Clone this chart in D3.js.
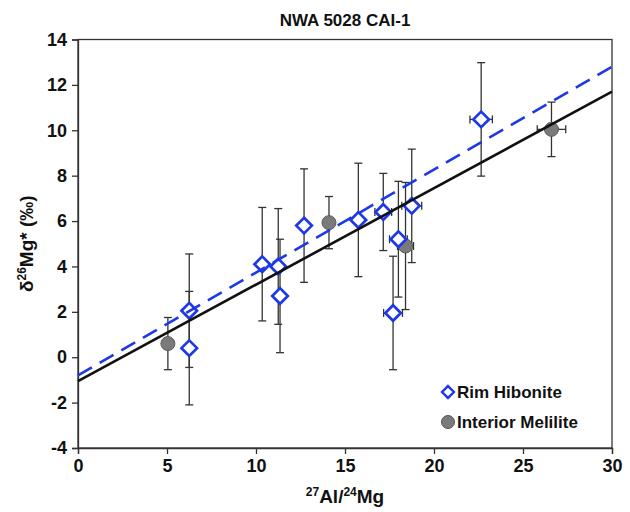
<!doctype html>
<html>
<head>
<meta charset="utf-8"/>
<style>
    html, body { margin: 0; background: #fff; }
    svg { font-family: "Liberation Sans", Arial, sans-serif; font-weight: bold; }
</style>
<script src="https://cdnjs.cloudflare.com/ajax/libs/d3/7.8.5/d3.min.js"></script>
</head>
<body>
<svg width="630" height="512"></svg>
<script>

// Rim hibonite: x, y, y error, x error
var rimX    = [6.25, 6.25, 10.35, 11.25, 11.35, 12.7, 15.75, 17.15, 18.0, 18.75, 17.7, 22.65];
var rimY    = [0.4, 2.05, 4.1, 4.0, 2.7, 5.8, 6.05, 6.4, 5.2, 6.67, 1.95, 10.48];
var rimYErr = [2.5, 2.5, 2.5, 2.55, 2.5, 2.5, 2.5, 1.7, 2.55, 2.5, 2.5, 2.5];
var rimXErr = [0, 0, 0, 0, 0, 0, 0, 0.47, 0.5, 0.56, 0.53, 0.63];

// Interior melilite
var melX    = [5.05, 14.1, 18.4, 26.6];
var melY    = [0.6, 5.93, 4.9, 10.04];
var melYErr = [1.15, 1.15, 2.8, 1.2];
var melXErr = [0, 0, 0.45, 0.8];

// regression lines: [intercept, slope]
var fitAll = [-1.05, 0.425];
var fitRim = [-0.8, 0.4533];

var xTicks = [0, 5, 10, 15, 20, 25, 30];
var yTicks = [-4, -2, 0, 2, 4, 6, 8, 10, 12, 14];

var BLUE = "#1d38e6";
var AXIS = "#333";

var svg = d3.select("svg");
var margin = {left: 78, right: 18, top: 39.5, bottom: 64};
var W = 630, H = 512;

var x = d3.scaleLinear().domain([0, 30]).range([margin.left, W - margin.right]);
var y = d3.scaleLinear().domain([-4, 14]).range([H - margin.bottom, margin.top]);

// frame
svg.append("rect")
    .attr("x", x(0)).attr("y", y(14))
    .attr("width", x(30) - x(0)).attr("height", y(-4) - y(14))
    .attr("fill", "none").attr("stroke", AXIS).attr("stroke-width", 1.3);

var fmt = function(d) { return String(d); };  // plain hyphen minus like the original
var xAxis = svg.append("g")
    .attr("transform", "translate(0," + y(-4) + ")")
    .call(d3.axisBottom(x).tickValues(xTicks).tickFormat(fmt).tickSize(6).tickPadding(5));
var yAxis = svg.append("g")
    .attr("transform", "translate(" + x(0) + ",0)")
    .call(d3.axisLeft(y).tickValues(yTicks).tickFormat(fmt).tickSize(6).tickPadding(5));
[xAxis, yAxis].forEach(function(a) {
    a.select(".domain").attr("stroke", AXIS).attr("stroke-width", 1.3);
    a.selectAll(".tick line").attr("stroke", AXIS).attr("stroke-width", 1.3);
    a.selectAll(".tick text").attr("fill", "#111")
        .style("font-size", "18px").style("font-weight", "bold")
        .style("font-family", "'Liberation Sans', Arial, sans-serif");
});

// error bars
function errorBars(xs, ys, yerr, xerr) {
    var g = svg.append("g").attr("stroke", AXIS).attr("stroke-width", 1.3).attr("fill", "none");
    var cap = 4;
    xs.forEach(function(xv, i) {
        var yv = ys[i];
        var top = y(yv + yerr[i]), bot = y(yv - yerr[i]);
        g.append("line").attr("x1", x(xv)).attr("x2", x(xv)).attr("y1", top).attr("y2", bot);
        g.append("line").attr("x1", x(xv) - cap).attr("x2", x(xv) + cap).attr("y1", top).attr("y2", top);
        g.append("line").attr("x1", x(xv) - cap).attr("x2", x(xv) + cap).attr("y1", bot).attr("y2", bot);
        if (xerr[i] > 0) {
            var l = x(xv - xerr[i]), r = x(xv + xerr[i]);
            g.append("line").attr("x1", l).attr("x2", r).attr("y1", y(yv)).attr("y2", y(yv));
            g.append("line").attr("x1", l).attr("x2", l).attr("y1", y(yv) - cap).attr("y2", y(yv) + cap);
            g.append("line").attr("x1", r).attr("x2", r).attr("y1", y(yv) - cap).attr("y2", y(yv) + cap);
        }
    });
}
errorBars(melX, melY, melYErr, melXErr);
errorBars(rimX, rimY, rimYErr, rimXErr);

// markers
var diamond = d3.symbol().type(d3.symbolDiamond2).size(155);

svg.append("g").selectAll("circle")
    .data(d3.range(melX.length)).enter().append("circle")
    .attr("cx", function(i) { return x(melX[i]); })
    .attr("cy", function(i) { return y(melY[i]); })
    .attr("r", 7)
    .attr("fill", "#7a7a7a").attr("stroke", "#5a5a5a").attr("stroke-width", 1);

svg.append("g").selectAll("path")
    .data(d3.range(rimX.length)).enter().append("path")
    .attr("transform", function(i) { return "translate(" + x(rimX[i]) + "," + y(rimY[i]) + ")"; })
    .attr("d", diamond)
    .attr("fill", "#fff").attr("stroke", BLUE).attr("stroke-width", 2.7);

// regression lines
function fitLine(f, color, dash) {
    svg.append("line")
        .attr("x1", x(0)).attr("y1", y(f[0]))
        .attr("x2", x(30)).attr("y2", y(f[0] + f[1] * 30))
        .attr("stroke", color).attr("stroke-width", 2.6)
        .attr("stroke-dasharray", dash);
}
fitLine(fitAll, "#111", null);
fitLine(fitRim, BLUE, "16,9");

// legend
var leg = svg.append("g").style("font-size", "17px");
leg.append("path")
    .attr("transform", "translate(" + 448 + "," + 392 + ")")
    .attr("d", d3.symbol().type(d3.symbolDiamond2).size(90))
    .attr("fill", "#fff").attr("stroke", BLUE).attr("stroke-width", 2.4);
leg.append("text").attr("x", 457).attr("y", 398).attr("fill", "#111").text("Rim Hibonite");
leg.append("circle").attr("cx", 448).attr("cy", 422).attr("r", 6.5)
    .attr("fill", "#7a7a7a").attr("stroke", "#555").attr("stroke-width", 1);
leg.append("text").attr("x", 457).attr("y", 428).attr("fill", "#111").text("Interior Melilite");

// title
svg.append("text")
    .attr("x", (x(0) + x(30)) / 2).attr("y", 26)
    .attr("text-anchor", "middle").style("font-size", "17px").attr("fill", "#111")
    .text("NWA 5028 CAI-1");

// x axis title
var xt = svg.append("text")
    .attr("x", (x(0) + x(30)) / 2).attr("y", 503)
    .attr("text-anchor", "middle").style("font-size", "19px").attr("fill", "#111");
xt.append("tspan").attr("baseline-shift", "super").style("font-size", "12px").text("27");
xt.append("tspan").text("Al/");
xt.append("tspan").attr("baseline-shift", "super").style("font-size", "12px").text("24");
xt.append("tspan").text("Mg");

// y axis title
var yt = svg.append("text")
    .attr("transform", "translate(33," + (y(-4) + y(14)) / 2 + ") rotate(-90)")
    .attr("text-anchor", "middle").style("font-size", "19px").attr("fill", "#111");
yt.append("tspan").text("δ");
yt.append("tspan").attr("baseline-shift", "super").style("font-size", "12px").text("26");
yt.append("tspan").text("Mg* (‰)");

</script>
</body>
</html>
